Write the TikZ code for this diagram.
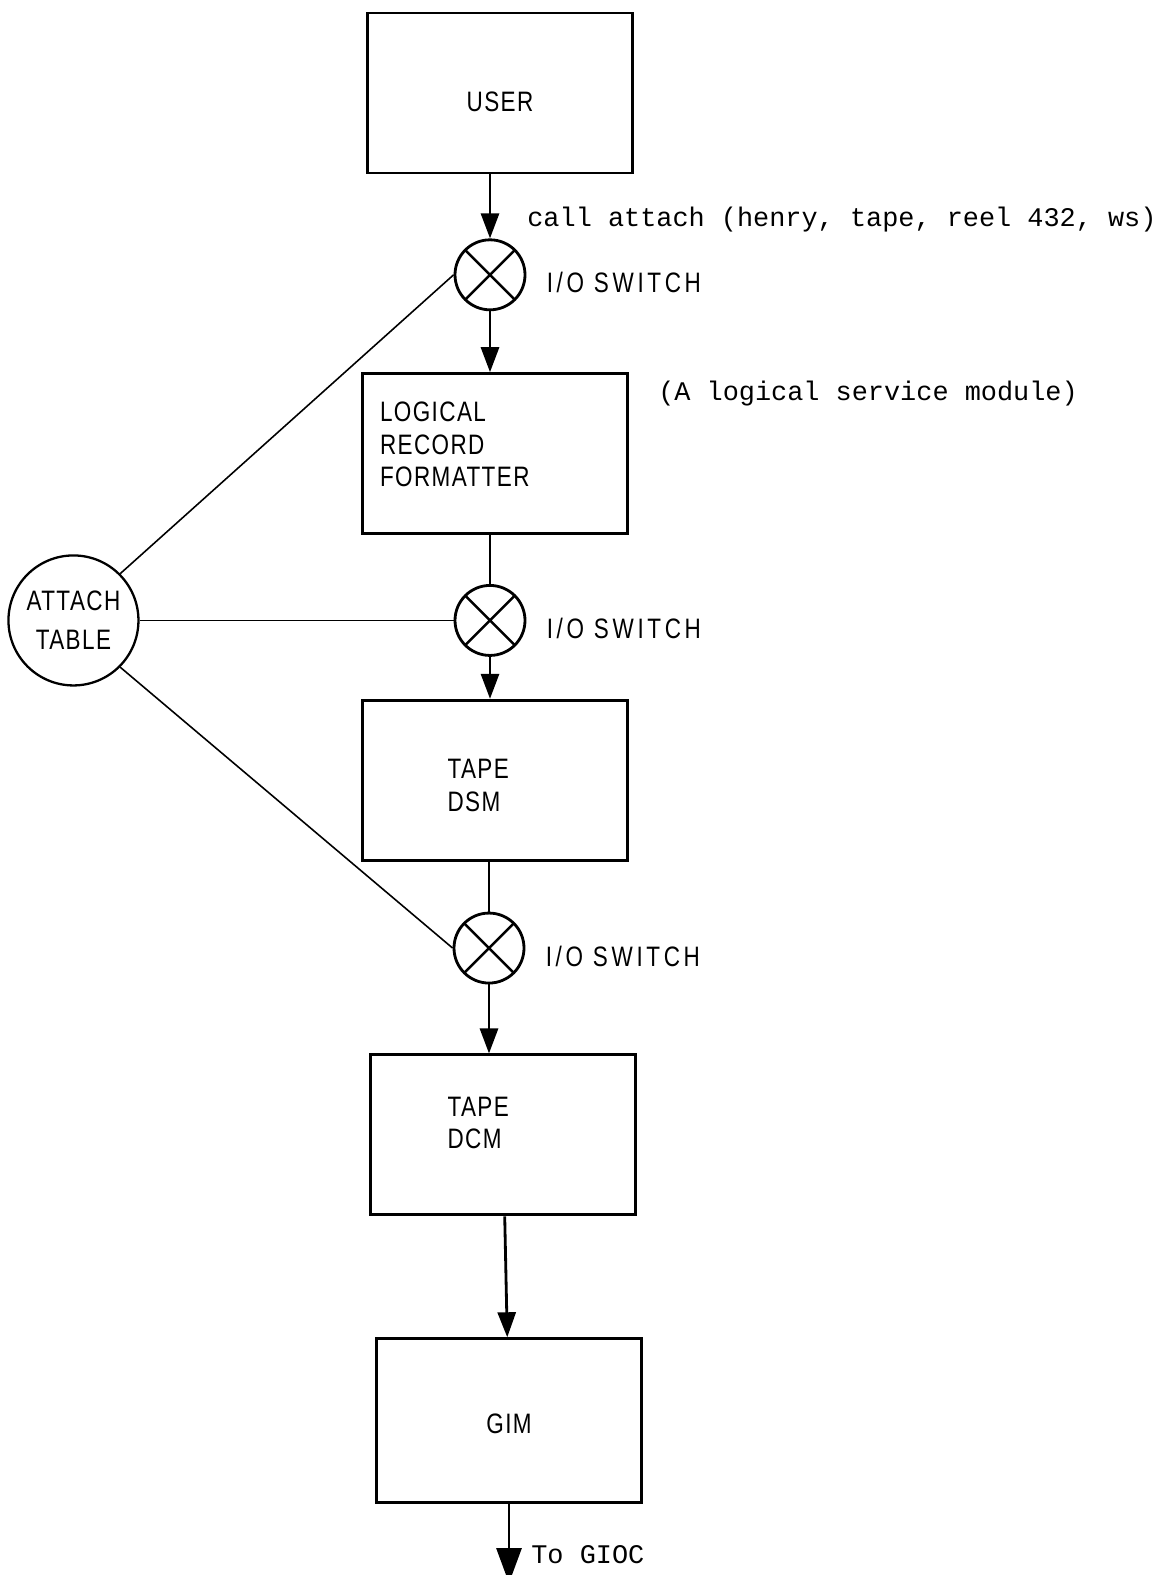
\documentclass[tikz,border=0pt]{standalone}
\usepackage{fontspec}
\setmainfont{Liberation Sans}
\newfontfamily\boxfont[FakeStretch=0.8,LetterSpace=5]{Liberation Sans}
\newfontfamily\swfont[FakeStretch=0.8,LetterSpace=13]{Liberation Sans}
\newfontfamily\typefont{Liberation Mono}
\newcommand\shiftlbl[2]{\raisebox{#1}[\height][\depth]{#2}}
\usetikzlibrary{arrows.meta,positioning,calc}

\begin{document}
\begin{tikzpicture}[
    node distance=1cm,
    module/.style={rectangle, draw, line width=1.6pt, minimum width=5.3cm, minimum height=3.2cm, align=left, font=\boxfont\fontsize{16}{18.5}\selectfont},
    switch/.style={circle, draw, line width=1.6pt, minimum size=1.4cm, inner sep=0pt,
        path picture={\draw[line width=1.4pt] (path picture bounding box.north west) -- (path picture bounding box.south east)
            (path picture bounding box.north east) -- (path picture bounding box.south west);}},
    attachtab/.style={circle, draw, line width=1.3pt, minimum size=2.6cm, inner sep=0pt, align=center, font=\boxfont\fontsize{16}{22}\selectfont},
    swlabel/.style={anchor=base west, inner sep=0pt, font=\swfont\fontsize{16}{18}\selectfont},
    remark/.style={anchor=base west, inner sep=0pt, font=\typefont\fontsize{15.3}{18}\selectfont},
    arrow/.style={-{Triangle[length=0.5cm,width=0.36cm]}, line width=1.6pt},
    link/.style={line width=0.9pt}
]
    \useasboundingbox (0,0) rectangle (23.36,-31.5);

    % the chain of modules and switches
    \node[module, align=center] (user) at (10,-1.86) {\shiftlbl{-0.18cm}{USER}};
    \node[switch, below=1.28cm of user, xshift=-0.2cm] (sw1) {};
    \node[module, below=1.22cm of sw1, xshift=0.1cm, text width=4.6cm, inner xsep=0.35cm] (lrf)
        {\shiftlbl{0.18cm}{LOGICAL}\\\shiftlbl{0.18cm}{RECORD}\\\shiftlbl{0.18cm}{FORMATTER}};
    \node[switch, below=0.98cm of lrf, xshift=-0.1cm] (sw2) {};
    \node[module, below=0.84cm of sw2, xshift=0.1cm, text width=1.9cm, inner xsep=1.7cm] (dsm)
        {\shiftlbl{-0.1cm}{TAPE}\\\shiftlbl{-0.1cm}{DSM}};
    \node[switch, below=1.0cm of dsm, xshift=-0.12cm] (sw3) {};
    \node[module, below=1.38cm of sw3, xshift=0.28cm, text width=2.22cm, inner xsep=1.54cm] (dcm)
        {\shiftlbl{0.24cm}{TAPE}\\\shiftlbl{0.24cm}{DCM}};
    \node[module, align=center, minimum height=3.28cm, below=2.42cm of dcm, xshift=0.12cm] (gim) {\shiftlbl{-0.06cm}{GIM}};
    \coordinate[below=1.58cm of gim.south] (gioc);

    % attach table
    \node[attachtab, left=6.28cm of sw2] (attach) {ATTACH\\TABLE};

    % labels
    \node[remark] (calllbl) at ([xshift=0.74cm, yshift=0.24cm]sw1.north) {call attach (henry, tape, reel 432, ws)};
    \node[swlabel] (swlbl1) at ([xshift=0.4cm, yshift=-0.36cm]sw1.east) {I/O SWITCH};
    \node[swlabel] (swlbl2) at ([xshift=0.4cm, yshift=-0.36cm]sw2.east) {I/O SWITCH};
    \node[swlabel] (swlbl3) at ([xshift=0.4cm, yshift=-0.36cm]sw3.east) {I/O SWITCH};
    \node[remark] (lsmlbl) at ([xshift=0.58cm, yshift=-0.56cm]lrf.north east) {(A logical service module)};
    \node[remark] (gioclbl) at ([xshift=0.44cm, yshift=-1.18cm]gim.south) {To GIOC};

    % connectors
    \draw[arrow] (sw1 |- user.south) -- (sw1);
    \draw[arrow] (sw1) -- (sw1 |- lrf.north);
    \draw[line width=1.6pt] (sw2 |- lrf.south) -- (sw2);
    \draw[arrow] (sw2) -- (sw2 |- dsm.north);
    \draw[line width=1.6pt] (sw3 |- dsm.south) -- (sw3);
    \draw[arrow] (sw3) -- (sw3 |- dcm.north);
    \draw[arrow] (dcm) -- (gim);
    \draw[-{Triangle[length=0.7cm,width=0.5cm]}, line width=1.6pt] (gim) -- (gioc);

    \draw[link] (attach.45) -- (sw1.west);
    \draw[link] (attach.east) -- (sw2.west);
    \draw[link] (attach.-45) -- (sw3.west);
\end{tikzpicture}
\end{document}
